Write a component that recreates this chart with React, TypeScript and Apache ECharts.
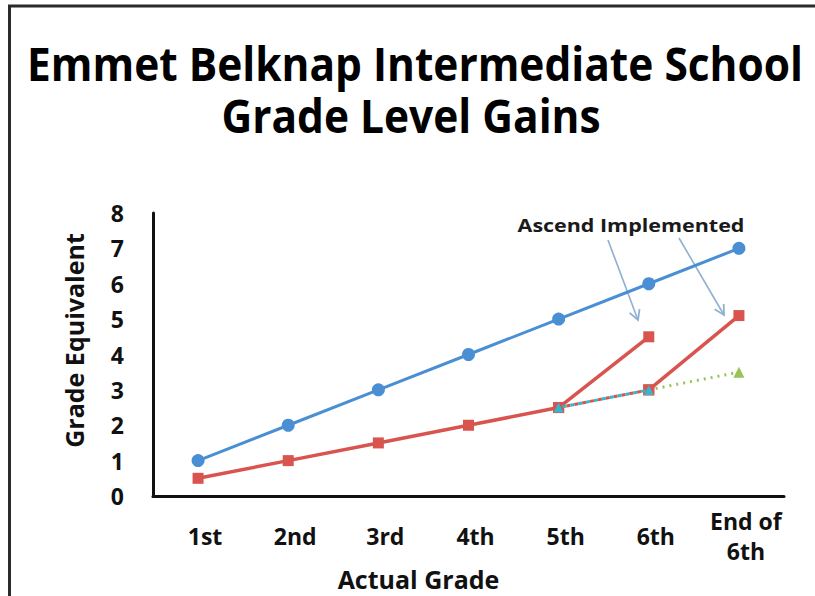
import React, { useEffect, useRef } from "react";
import * as echarts from "echarts";

const categories = ["1st", "2nd", "3rd", "4th", "5th", "6th", "End of\n6th"];
const expected = [1, 2, 3, 4, 5, 6, 7];
const actual = [0.5, 1, 1.5, 2, 2.5, 4.5, null];
const actualEnd = [null, null, null, null, null, 3, 5.1];
const projected = [null, null, null, null, 2.5, 3, null];
const projectedTrend = [null, null, null, null, null, 3, 3.5];

const titleLine1 = "Emmet Belknap Intermediate School";
const titleLine2 = "Grade Level Gains";
const annotation = "Ascend Implemented";

const BLUE = "#4a8fd4";
const RED = "#d9534f";
const CYAN = "#35b6cb";
const GREEN = "#99c35a";
const ARROW = "#8fb0cf";
const FONT = "'Open Sans', sans-serif";

function measure(text: string, font: string) {
  const c = document.createElement("canvas");
  const ctx = c.getContext("2d")!;
  ctx.font = font;
  return ctx.measureText(text).width;
}

function arrow(x1: number, y1: number, x2: number, y2: number) {
  const ang = Math.atan2(y2 - y1, x2 - x1);
  const L = 11;
  const spread = 0.5;
  const a1 = ang + Math.PI - spread;
  const a2 = ang + Math.PI + spread;
  return [
    { type: "line", shape: { x1, y1, x2, y2 }, style: { stroke: ARROW, lineWidth: 1.6 } },
    {
      type: "polyline",
      shape: {
        points: [
          [x2 + L * Math.cos(a1), y2 + L * Math.sin(a1)],
          [x2, y2],
          [x2 + L * Math.cos(a2), y2 + L * Math.sin(a2)],
        ],
      },
      style: { stroke: ARROW, lineWidth: 1.8, fill: null },
    },
  ];
}

export default function App() {
  const ref = useRef<HTMLDivElement>(null);
  useEffect(() => {
    if (!ref.current) return;
    const chart = echarts.init(ref.current, undefined, { renderer: "svg" });
    const titleFont = `bold 46px ${FONT}`;
    const sx = 776 / measure(titleLine1, titleFont);
    const annFont = `bold 18px ${FONT}`;
    const ax = 227 / measure(annotation, annFont);

    chart.setOption({
      animation: false,
      backgroundColor: "#ffffff",
      grid: { left: 153, right: 31, top: 213, bottom: 100, containLabel: false },
      xAxis: {
        type: "category",
        data: categories,
        boundaryGap: true,
        axisLine: { lineStyle: { color: "#111", width: 3 } },
        axisTick: { show: false },
        axisLabel: {
          color: "#111",
          fontFamily: FONT,
          fontWeight: "bold",
          fontSize: 23,
          margin: 40,
          verticalAlign: "middle",
          lineHeight: 30,
          padding: [0, 0, 0, 14],
          interval: 0,
        },
        name: "Actual Grade",
        nameLocation: "middle",
        nameGap: 69,
        nameTextStyle: {
          color: "#111",
          fontFamily: FONT,
          fontWeight: "bold",
          fontSize: 25,
          verticalAlign: "middle",
          padding: [0, 100, 0, 0],
        },
      },
      yAxis: {
        type: "value",
        min: 0,
        max: 8,
        interval: 1,
        splitLine: { show: false },
        axisLine: { show: true, lineStyle: { color: "#111", width: 3 } },
        axisTick: { show: false },
        axisLabel: {
          color: "#111",
          fontFamily: FONT,
          fontWeight: "bold",
          fontSize: 23,
          margin: 29,
          padding: [12, 0, 0, 0],
        },
        name: "Grade Equivalent",
        nameLocation: "middle",
        nameGap: 67,
        nameTextStyle: {
          color: "#111",
          fontFamily: FONT,
          fontWeight: "bold",
          fontSize: 25,
          padding: [0, 0, 0, 28],
        },
      },
      series: [
        {
          type: "line",
          data: expected,
          symbol: "circle",
          symbolSize: 13,
          itemStyle: { color: BLUE },
          lineStyle: { color: BLUE, width: 3 },
          z: 3,
        },
        {
          type: "line",
          data: actual,
          symbol: "rect",
          symbolSize: 11,
          itemStyle: { color: RED },
          lineStyle: { color: RED, width: 3.5 },
          z: 4,
        },
        {
          type: "line",
          data: actualEnd,
          symbol: "rect",
          symbolSize: 11,
          itemStyle: { color: RED },
          lineStyle: { color: RED, width: 3.5 },
          z: 4,
        },
        {
          type: "line",
          data: projectedTrend.map((v, i) =>
            i === projectedTrend.length - 1 ? { value: v } : { value: v, symbol: "none" }
          ),
          symbol: "triangle",
          symbolSize: 11,
          itemStyle: { color: GREEN },
          lineStyle: { color: GREEN, width: 3, type: [2, 5] },
          z: 4,
        },
        {
          type: "line",
          data: projected,
          symbol: "rect",
          symbolSize: 11,
          itemStyle: { color: RED },
          lineStyle: { color: RED, width: 3, type: [4, 4] },
          z: 5,
        },
        {
          type: "line",
          data: projected,
          symbol: "triangle",
          symbolSize: 10,
          itemStyle: { color: CYAN },
          lineStyle: { color: CYAN, width: 3, type: [4, 4], dashOffset: 4 },
          z: 6,
        },
      ],
      graphic: [
        { type: "line", shape: { x1: 8, y1: 6, x2: 815, y2: 6 }, style: { stroke: "#2b2b2b", lineWidth: 3 } },
        { type: "line", shape: { x1: 9.5, y1: 5, x2: 9.5, y2: 596 }, style: { stroke: "#2b2b2b", lineWidth: 3 } },
        {
          type: "text",
          x: 415,
          y: 63,
          scaleX: sx,
          style: { text: titleLine1, font: titleFont, fill: "#000", textAlign: "center", textVerticalAlign: "middle" },
        },
        {
          type: "text",
          x: 411,
          y: 115,
          scaleX: sx,
          style: { text: titleLine2, font: titleFont, fill: "#000", textAlign: "center", textVerticalAlign: "middle" },
        },
        {
          type: "text",
          x: 631,
          y: 225,
          scaleX: ax,
          style: { text: annotation, font: annFont, fill: "#1a1a1a", textAlign: "center", textVerticalAlign: "middle" },
        },
        ...arrow(608, 240, 638, 320),
        ...arrow(679, 238, 724, 315),
      ],
    });
    return () => chart.dispose();
  }, []);
  return <div ref={ref} style={{ width: 815, height: 596, position: "absolute", left: 0, top: 0 }} />;
}
